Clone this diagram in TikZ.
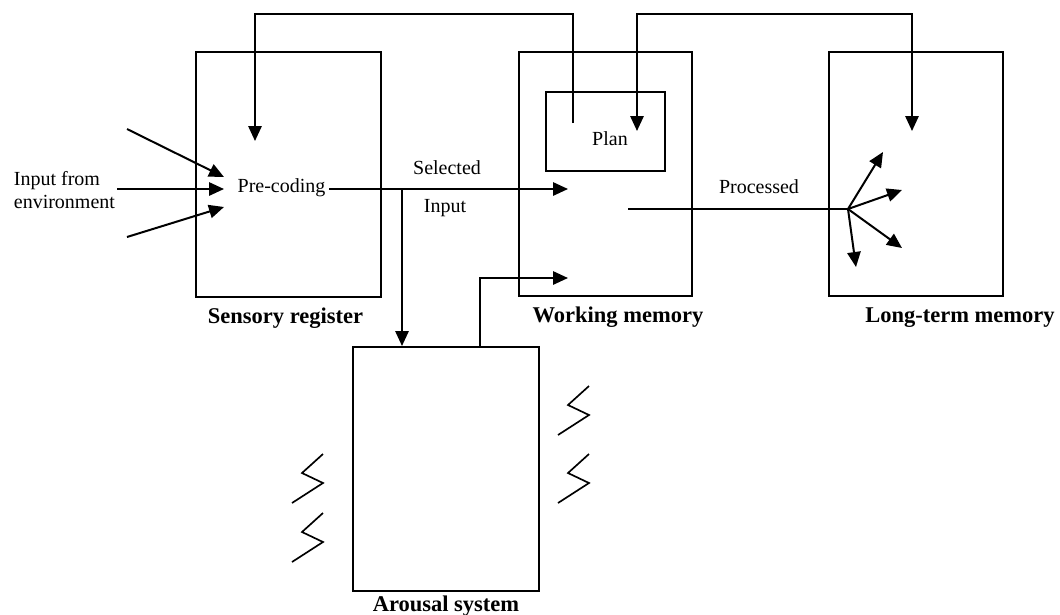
\documentclass[tikz,border=0pt]{standalone}
\usepackage{fontspec}
\setmainfont{Liberation Serif}
\usetikzlibrary{arrows.meta,positioning}

\begin{document}
\begin{tikzpicture}[x=0.6pt, y=-0.6pt,
    every node/.style={font=\fontsize{12}{13.8}\selectfont},
    store/.style={draw, line width=1.2pt, inner sep=0pt},
    title/.style={font=\fontsize{13.5}{16}\selectfont\bfseries, inner sep=2pt},
    flow/.style={line width=1.2pt, -{Triangle[length=9pt,width=8pt]}},
    line/.style={line width=1.2pt},
    zig/.style={line width=1pt}]
    \useasboundingbox (0,0) rectangle (1060,614);

    % stores
    \node[store, minimum width=111pt, minimum height=147pt] (sensory) at (288.5,174.5) {};
    \node[store, minimum width=103.8pt, minimum height=146.4pt] (working) at (605.5,174) {};
    \node[store, minimum width=71.4pt, minimum height=47.4pt] (plan) at (605.5,131.5) {};
    \node[store, minimum width=104.4pt, minimum height=146.4pt] (longterm) at (916,174) {};
    \node[store, minimum width=111.6pt, minimum height=146.4pt] (arousal) at (446,469) {};

    \node[title, below=4pt of sensory, xshift=-1.8pt] {Sensory register};
    \node[title, below=4pt of working, xshift=7.5pt] {Working memory};
    \node[title, below=4pt of longterm, xshift=26.4pt] {Long-term memory};
    \node[title, below=0pt of arousal] {Arousal system};

    % texts
    \node[align=left, anchor=west] (env) at (8,190) {Input from\\environment};
    \node[anchor=west, inner sep=2pt] (precode) at (234,188) {Pre-coding};
    \node (plantext) at (610,139) {Plan};
    \node (selected) at (447,168) {Selected};
    \node (input) at (445,208) {Input};
    \node (processed) at (759,187) {Processed};

    % ends
    \coordinate (in1) at (127,129);
    \coordinate (in2) at (117,189);
    \coordinate (in3) at (127,237);
    \coordinate (tip1) at (224,177);
    \coordinate (tip2) at (224,189);
    \coordinate (tip3) at (224,207);
    \coordinate (split) at (402,189);
    \coordinate (wmin1) at (568,189);
    \coordinate (wmin2) at (568,278);
    \coordinate (plansrc) at (573,123);
    \coordinate (srtip) at (255,141);
    \coordinate (plantip) at (637,131);
    \coordinate (lttip) at (912,131);
    \coordinate (wmout) at (628,209);
    \coordinate (hub) at (848,209);

    % input
    \draw[flow] (in1) -- (tip1);
    \draw[flow] (in2) -- (tip2);
    \draw[flow] (in3) -- (tip3);
    \draw[flow] (precode.east |- split) -- (wmin1);
    \draw[flow] (split) -- (split |- arousal.north);
    \draw[flow] ([xshift=20.4pt]arousal.north) |- (wmin2);

    % feedback
    \draw[flow] (plansrc) -- ++(0,-109) -| (srtip);
    \draw[flow, {Triangle[length=9pt,width=8pt]}-{Triangle[length=9pt,width=8pt]}] (plantip) -- ++(0,-117) -| (lttip);

    % processed
    \draw[line] (wmout) -- (hub);
    \foreach \tx/\ty in {883/152, 902/190, 902/248, 856/267}
        \draw[flow] (hub) -- (\tx,\ty);

    % arousal
    \foreach \zx/\zy in {589/386, 589/454, 323/454, 323/513}
        \draw[zig] (\zx,\zy) -- ++(-21,19) -- ++(21,10) -- ++(-31,20);
\end{tikzpicture}
\end{document}
